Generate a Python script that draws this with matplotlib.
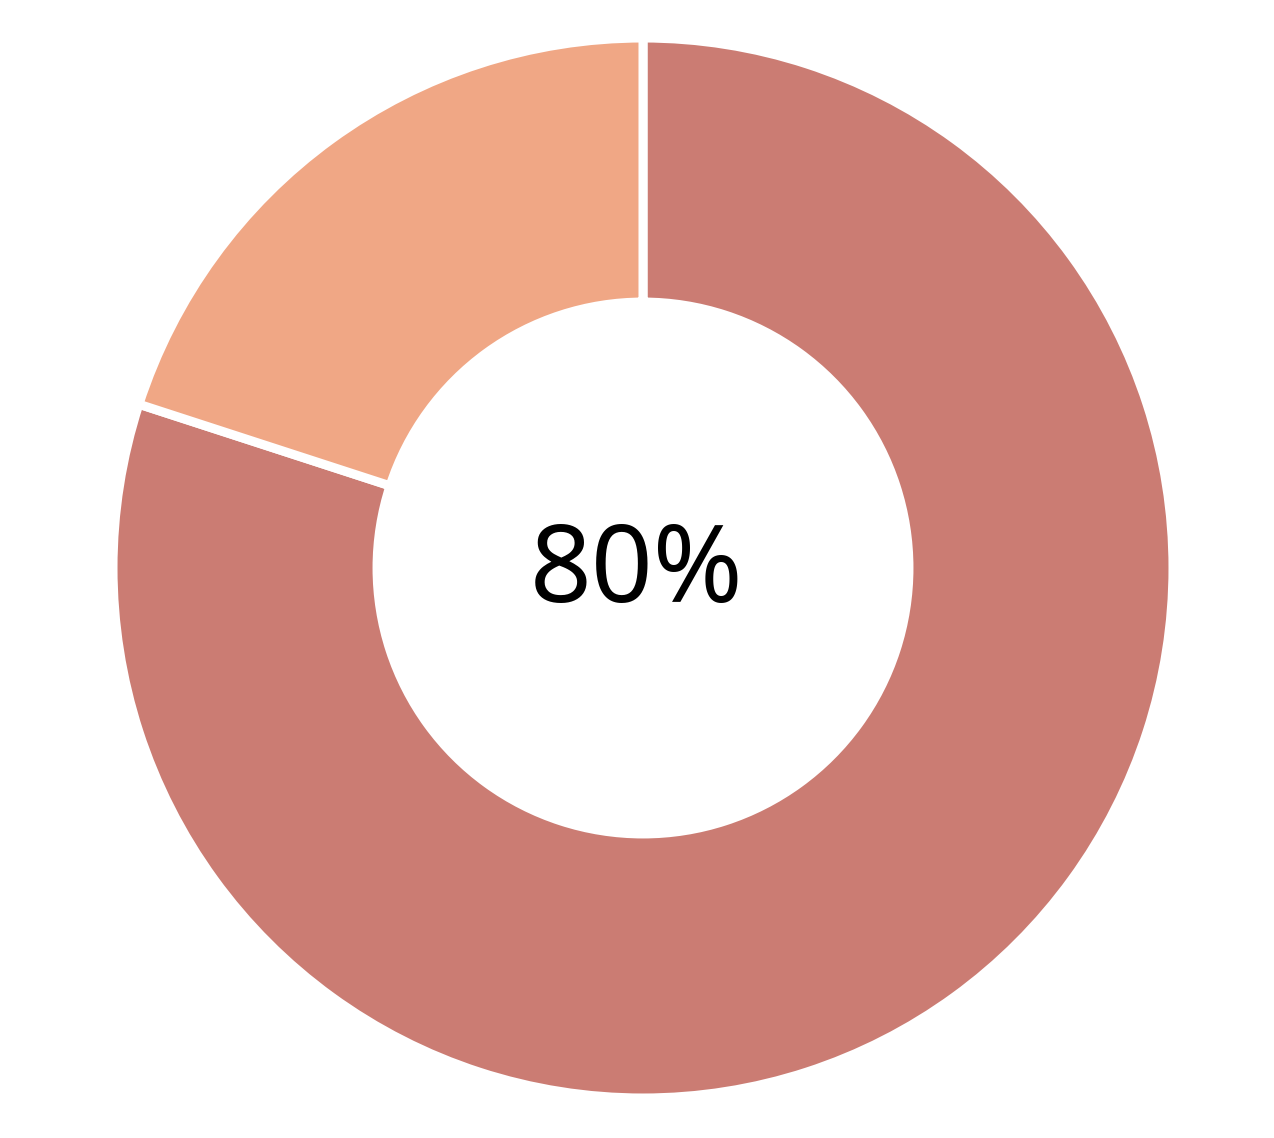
import matplotlib
matplotlib.use("Agg")
import matplotlib.pyplot as plt

labels = ["Complete", "Remaining"]
values = [80, 20]
colors = ["#CB7C73", "#F0A785"]
center_text = "80%"

W, H, DPI = 1274, 1138, 100
fig = plt.figure(figsize=(W / DPI, H / DPI), dpi=DPI)
ax = fig.add_axes([0, 0, 1, 1])
cx, cy, R = 643, 1138 - 568, 526

ax.pie(values, colors=colors, startangle=90, counterclock=False, radius=1.0076,
       wedgeprops=dict(width=0.502, edgecolor="white", linewidth=6.5))
ax.set_xlim(-cx / R, (W - cx) / R)
ax.set_ylim(-cy / R, (H - cy) / R)
ax.set_aspect("equal")
ax.axis("off")
ax.text(-0.012, -0.012, center_text, ha="center", va="center", fontsize=78,
        family=["Noto Sans", "DejaVu Sans"], fontweight="normal", color="black")

fig.savefig("out.png", dpi=DPI, facecolor="white")
